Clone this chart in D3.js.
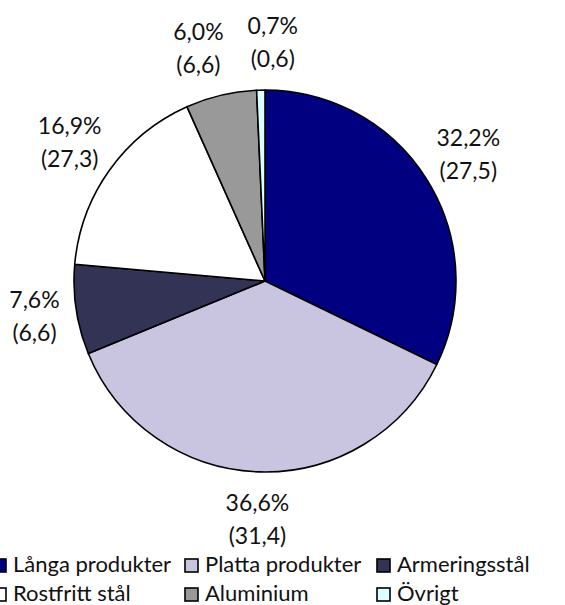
<!DOCTYPE html>
<html>
<head>
<meta charset="utf-8">
<script src="https://cdn.jsdelivr.net/npm/d3@7"></script>
<style>
  html, body { margin: 0; padding: 0; background: #fff; }
  svg { display: block; }
  text { font-family: Lato, "Open Sans", sans-serif; fill: #111; }
</style>
</head>
<body>
<svg id="chart" width="565" height="605"></svg>
<script>
// Product groups, share of deliveries (%) and volume in brackets
const categories = ["Långa produkter", "Platta produkter", "Armeringsstål", "Rostfritt stål", "Aluminium", "Övrigt"];
const shares = [32.2, 36.6, 7.6, 16.9, 6.0, 0.7];
const volumes = [27.5, 31.4, 6.6, 27.3, 6.6, 0.6];
const colors = ["#000080", "#C9C5E1", "#333355", "#FFFFFF", "#999999", "#D9FFFF"];

const svg = d3.select("#chart");
const cx = 265, cy = 281, r = 191;
const fontSize = 23, lineGap = 33;

const fmt = v => d3.format(".1f")(v).replace(".", ",");

const data = categories.map((c, i) => ({ name: c, share: shares[i], volume: volumes[i], color: colors[i] }));

const pie = d3.pie().sort(null).value(d => d.share);
const arcs = pie(data);
const arc = d3.arc().innerRadius(0).outerRadius(r);

const g = svg.append("g").attr("transform", `translate(${cx},${cy})`);

g.selectAll("path.slice")
  .data(arcs)
  .join("path")
  .attr("class", "slice")
  .attr("d", arc)
  .attr("fill", d => d.data.color)
  .attr("stroke", "#000")
  .attr("stroke-width", 1.6)
  .attr("stroke-linejoin", "round");

// Labels: two-line text block placed just outside the rim
const labels = arcs.map(d => {
  const a = (d.startAngle + d.endAngle) / 2;
  const s = Math.sin(a), c = Math.cos(a);
  const line1 = fmt(d.data.share) + "%";
  const line2 = "(" + fmt(d.data.volume) + ")";
  return { a, s, c, line1, line2 };
});

const lg = g.append("g");
const blocks = lg.selectAll("g.lbl").data(labels).join("g").attr("class", "lbl");
blocks.append("text")
  .attr("text-anchor", "middle")
  .attr("font-size", fontSize)
  .attr("y", -lineGap / 2)
  .attr("dy", "0.35em")
  .text(d => d.line1);
blocks.append("text")
  .attr("text-anchor", "middle")
  .attr("font-size", fontSize)
  .attr("y", lineGap / 2)
  .attr("dy", "0.35em")
  .text(d => d.line2);

const pad = 17;
blocks.each(function (d) {
  const bb = this.getBBox();
  d.w = bb.width; d.h = bb.height;
  d.x = (r + pad) * d.s + (d.w / 2) * d.s;
  d.y = -(r + pad) * d.c - (d.h / 2) * d.c;
});

// Push apart labels that crowd each other horizontally
for (let iter = 0; iter < 20; iter++) {
  for (let i = 0; i < labels.length; i++) {
    for (let j = i + 1; j < labels.length; j++) {
      const p = labels[i], q = labels[j];
      if (Math.abs(p.y - q.y) > (p.h + q.h) / 2) continue;
      const need = (p.w + q.w) / 2 + 24;
      const dx = q.x - p.x;
      if (Math.abs(dx) < need) {
        const shift = (need - Math.abs(dx)) / 2;
        const sign = dx >= 0 ? 1 : -1;
        p.x -= sign * shift; q.x += sign * shift;
      }
    }
  }
}
blocks.attr("transform", d => `translate(${d.x},${d.y})`);

// Legend: three columns, two rows
const legX = d3.scaleBand().domain([0, 1, 2]).range([-7, 569]);
const legY = d3.scaleBand().domain([0, 1]).range([550, 608]);
const box = 13;
const items = svg.append("g").selectAll("g.item")
  .data(data)
  .join("g")
  .attr("class", "item")
  .attr("transform", (d, i) => `translate(${legX(i % 3)},${legY(Math.floor(i / 3)) + legY.bandwidth() / 2})`);
items.append("rect")
  .attr("x", 0).attr("y", -box / 2 + 1)
  .attr("width", box).attr("height", box)
  .attr("fill", d => d.color)
  .attr("stroke", "#000").attr("stroke-width", 1.6);
items.append("text")
  .attr("x", box + 7)
  .attr("dy", "0.35em")
  .attr("font-size", 22)
  .text(d => d.name);
</script>
</body>
</html>
